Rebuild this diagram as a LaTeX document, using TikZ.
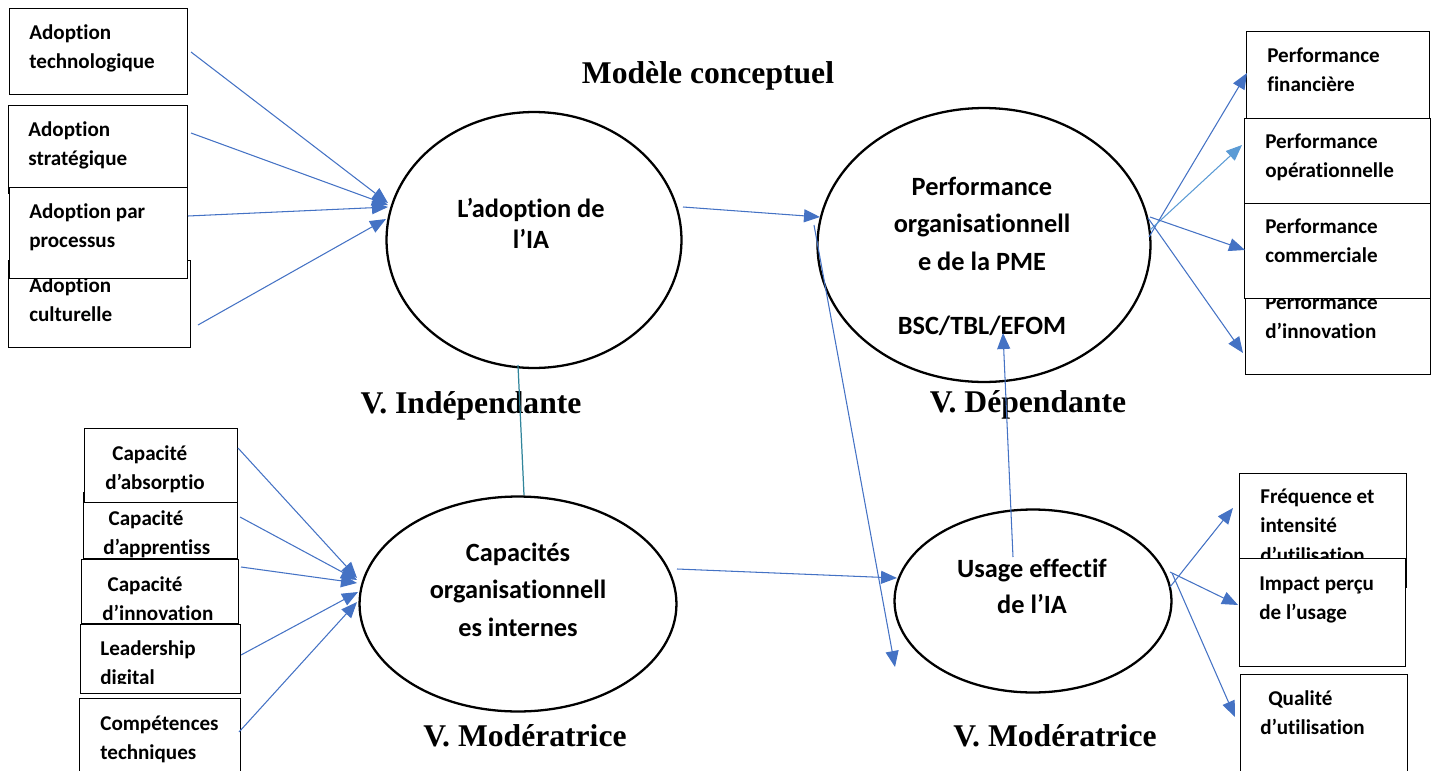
\documentclass[tikz,border=0pt]{standalone}
\usepackage{fontspec}
\setmainfont{Carlito}[Ligatures={NoCommon}]
\newfontfamily\tserif{Liberation Serif}
\usetikzlibrary{arrows.meta,shapes.geometric}
\definecolor{ab}{RGB}{68,114,196}
\definecolor{al}{RGB}{91,155,213}
\definecolor{tl}{RGB}{49,133,155}
\newcommand{\mlL}[1]{\parbox[t]{5cm}{\raggedright #1}}
\newcommand{\mlC}[1]{\parbox[t]{8cm}{\centering #1}}
\begin{document}
\begin{tikzpicture}[x=0.02cm,y=-0.02cm,
  bx/.style={draw=black, fill=white, line width=0.75pt, inner sep=0pt, anchor=north west},
  bt/.style={font=\fontsize{12pt}{16.8pt}\selectfont\bfseries, anchor=base west, inner sep=0pt},
  el/.style={draw=black, ellipse, line width=1.3pt, inner sep=0pt},
  et/.style={font=\fontsize{15pt}{21.6pt}\selectfont\bfseries, anchor=base, inner sep=0pt},
  ttl/.style={font=\tserif\fontsize{18pt}{20pt}\selectfont\bfseries, anchor=base, inner sep=0pt},
  arr/.style={draw=ab, line width=0.6pt, -{Triangle[length=0.32cm,width=0.26cm]}},
  arrl/.style={arr, draw=al, -{Triangle[length=0.32cm,width=0.26cm,fill=al]}}
]
\useasboundingbox (0,0) rectangle (1438,771);

% titles
\node[ttl] (title) at (708,83) {Modèle conceptuel};
\node[ttl] (vind) at (471,413) {V. Indépendante};
\node[ttl] (vdep) at (1028,412) {V. Dépendante};
\node[ttl] (vmod1) at (525,746) {V. Modératrice};
\node[ttl] (vmod2) at (1055,746) {V. Modératrice};

% ellipses
\node[el, minimum width=5.9cm, minimum height=5.12cm] (e1) at (534,240) {};
\node[et] (e1t) at (531,217) {\mlC{L’adoption de\\[-3.4pt]l’IA}};
\node[el, minimum width=6.66cm, minimum height=5.48cm] (e2) at (984,245) {};
\node[et] (e2t) at (982,195) {\mlC{Performance\\organisationnell\\e de la PME\\[14.8pt]BSC/TBL/EFOM}};
\node[el, minimum width=6.34cm, minimum height=4.3cm] (e3) at (518,604) {};
\node[et] (e3t) at (518,561) {\mlC{Capacités\\organisationnell\\es internes}};
\node[el, minimum width=5.54cm, minimum height=3.66cm] (e4) at (1033,601) {};
\node[et] (e4t) at (1032,577) {\mlC{Usage effectif\\[-1pt]de l’IA}};

% left top boxes
\node[bx, minimum width=3.56cm, minimum height=1.72cm] (b1) at (9,8) {};
\node[bt] (b1t) at (29,39) {\mlL{Adoption\\technologique}};
\node[bx, minimum width=3.58cm, minimum height=1.76cm] (b2) at (8,105) {};
\node[bt] (b2t) at (28,136) {\mlL{Adoption\\stratégique}};
\node[bx, minimum width=3.64cm, minimum height=1.74cm] (b4) at (8,260) {};
\node[bt] (b4t) at (29,292) {\mlL{Adoption\\culturelle}};
\node[bx, minimum width=3.56cm, minimum height=1.82cm] (b3) at (9,187) {};
\node[bt] (b3t) at (29,218) {\mlL{Adoption par\\processus}};

% right top boxes
\node[bx, minimum width=3.66cm, minimum height=1.74cm] (r1) at (1246,31) {};
\node[bt] (r1t) at (1267,62) {\mlL{Performance\\financière}};
\node[bx, minimum width=3.72cm, minimum height=1.70cm] (r2) at (1244,118) {};
\node[bt] (r2t) at (1265,148) {\mlL{Performance\\opérationnelle}};
\node[bx, minimum width=3.70cm, minimum height=1.78cm] (r4) at (1245,285) {};
\node[bt] (r4t) at (1265,309) {\mlL{Performance\\d’innovation}};
\node[bx, minimum width=3.72cm, minimum height=1.90cm] (r3) at (1244,203) {};
\node[bt] (r3t) at (1265,233) {\mlL{Performance\\commerciale}};

% right bottom boxes
\node[bx, minimum width=3.34cm, minimum height=2.28cm] (f1) at (1239,473) {};
\node[bt] (f1t) at (1260,503) {\mlL{Fréquence et\\intensité\\d’utilisation}};
\node[bx, minimum width=3.32cm, minimum height=2.16cm] (f2) at (1239,558) {};
\node[bt] (f2t) at (1259,590) {\mlL{Impact perçu\\de l’usage}};
\node[bx, minimum width=3.34cm, minimum height=2.00cm] (f3) at (1240,674) {};
\node[bt] (f3t) at (1260,705) {\mlL{\hspace*{4.5pt}Qualité\\d’utilisation}};

% left bottom boxes
\node[bx, minimum width=3.08cm, minimum height=1.32cm] (c2) at (83,492) {};
\node[bt] (c2t) at (103,525) {\mlL{\hspace*{3pt}Capacité\\d’apprentiss}};
\node[bx, minimum width=3.06cm, minimum height=1.48cm] (c1) at (84,428) {};
\node[bt] (c1t) at (105,460) {\mlL{\hspace*{4pt}Capacité\\d’absorptio}};
\node[bx, minimum width=3.14cm, minimum height=1.28cm] (c3) at (81,559) {};
\node[bt] (c3t) at (102,591) {\mlL{\hspace*{3pt}Capacité\\d’innovation}};
\node[bx, minimum width=3.20cm, minimum height=1.38cm] (c4) at (80,624) {};
\begin{scope}
  \clip (80,624) rectangle (240,683);
  \node[bt] (c4t) at (100,655) {\mlL{Leadership\\digital}};
\end{scope}
\node[bx, minimum width=3.22cm, minimum height=1.60cm] (c5) at (79,698) {};
\node[bt] (c5t) at (100,730) {\mlL{Compétences\\techniques}};

% connector end points
\coordinate (t1s) at (191,52);  \coordinate (t1e) at (388,203);
\coordinate (t2s) at (191,133); \coordinate (t2e) at (388,205);
\coordinate (t3s) at (188,216); \coordinate (t3e) at (388,207);
\coordinate (t4s) at (198,325); \coordinate (t4e) at (386,219);
\coordinate (pqs) at (683,207); \coordinate (pqe) at (820,217);
\coordinate (lgs) at (814,225); \coordinate (lge) at (895,667);
\coordinate (vts) at (518,365); \coordinate (vte) at (524,495);
\coordinate (cus) at (677,569); \coordinate (cue) at (897,578);
\coordinate (ups) at (1013,557); \coordinate (upe) at (1003,333);
\coordinate (k1s) at (238,448); \coordinate (k1e) at (357,578);
\coordinate (k2s) at (240,517); \coordinate (k2e) at (357,580);
\coordinate (k3s) at (241,567); \coordinate (k3e) at (357,583);
\coordinate (k4s) at (241,655); \coordinate (k4e) at (358,592);
\coordinate (k5s) at (239,732); \coordinate (k5e) at (357,602);
\coordinate (p1s) at (1149,237); \coordinate (p1e) at (1247,73);
\coordinate (p2s) at (1150,230); \coordinate (p2e) at (1242,145);
\coordinate (p3s) at (1150,217); \coordinate (p3e) at (1245,250);
\coordinate (p4s) at (1148,218); \coordinate (p4e) at (1243,353);
\coordinate (u1s) at (1170,587); \coordinate (u1e) at (1233,508);
\coordinate (u2s) at (1170,572); \coordinate (u2e) at (1238,605);
\coordinate (u3s) at (1172,573); \coordinate (u3e) at (1235,717);

% connectors
\draw[arr] (t1s) -- (t1e);
\draw[arr] (t2s) -- (t2e);
\draw[arr] (t3s) -- (t3e);
\draw[arr] (t4s) -- (t4e);
\draw[arr] (pqs) -- (pqe);
\draw[arr] (lgs) -- (lge);
\draw[draw=tl, line width=0.7pt] (vts) -- (vte);
\draw[arr] (cus) -- (cue);
\draw[arr] (ups) -- (upe);
\draw[arr] (k1s) -- (k1e);
\draw[arr] (k2s) -- (k2e);
\draw[arr] (k3s) -- (k3e);
\draw[arr] (k4s) -- (k4e);
\draw[arr] (k5s) -- (k5e);
\draw[arr] (p1s) -- (p1e);
\draw[arrl] (p2s) -- (p2e);
\draw[arr] (p3s) -- (p3e);
\draw[arr] (p4s) -- (p4e);
\draw[arr] (u1s) -- (u1e);
\draw[arr] (u2s) -- (u2e);
\draw[arr] (u3s) -- (u3e);
\end{tikzpicture}
\end{document}
